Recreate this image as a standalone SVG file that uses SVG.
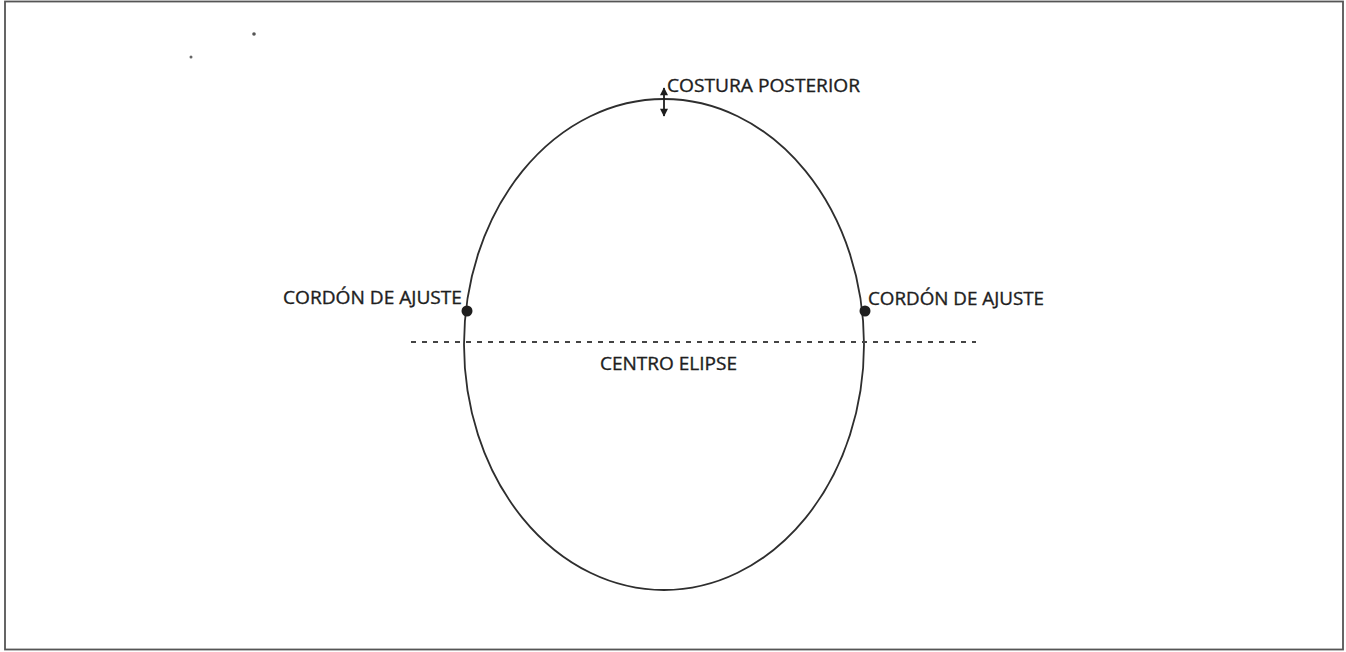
<svg xmlns="http://www.w3.org/2000/svg" width="1346" height="652" viewBox="0 0 1346 652">
<style>
.lbl{font-family:"Open Sans","Liberation Sans",sans-serif;font-size:18.5px;fill:#1e1e1e;stroke:#1e1e1e;stroke-width:0.35}
.ln{fill:none;stroke:#2e2e2e;stroke-width:1.8}
</style>
<defs>
<marker id="ah" viewBox="0 0 10 10" refX="9" refY="5" markerWidth="9" markerHeight="8" orient="auto-start-reverse" markerUnits="userSpaceOnUse">
<path d="M0,0 L10,5 L0,10 z" fill="#1e1e1e"/>
</marker>
</defs>
<rect x="0" y="0" width="1346" height="652" fill="#fff"/>
<rect x="5" y="1.5" width="1338" height="648" fill="none" stroke="#555" stroke-width="1.8"/>
<circle cx="254" cy="34" r="1.8" fill="#555"/>
<circle cx="191" cy="57" r="1.5" fill="#666"/>
<g id="ellipse">
<ellipse class="ln" cx="664" cy="344.5" rx="200" ry="245.5"/>
</g>
<g id="connectors">
<line x1="411" y1="342" x2="976" y2="342" stroke="#444" stroke-width="1.8" stroke-dasharray="5 6"/>
<line x1="664" y1="88" x2="664" y2="116" stroke="#1e1e1e" stroke-width="1.8" marker-start="url(#ah)" marker-end="url(#ah)"/>
</g>
<g id="costura">
<text class="lbl" x="667" y="92" textLength="193" lengthAdjust="spacingAndGlyphs">COSTURA POSTERIOR</text>
</g>
<g id="cordon-left">
<circle cx="467" cy="311" r="5.5" fill="#1e1e1e"/>
<text class="lbl" x="283" y="304" textLength="179" lengthAdjust="spacingAndGlyphs">CORDÓN DE AJUSTE</text>
</g>
<g id="cordon-right">
<circle cx="865" cy="311" r="5.5" fill="#1e1e1e"/>
<text class="lbl" x="868" y="305" textLength="176" lengthAdjust="spacingAndGlyphs">CORDÓN DE AJUSTE</text>
</g>
<g id="centro">
<text class="lbl" x="600" y="370" textLength="137" lengthAdjust="spacingAndGlyphs">CENTRO ELIPSE</text>
</g>
</svg>
